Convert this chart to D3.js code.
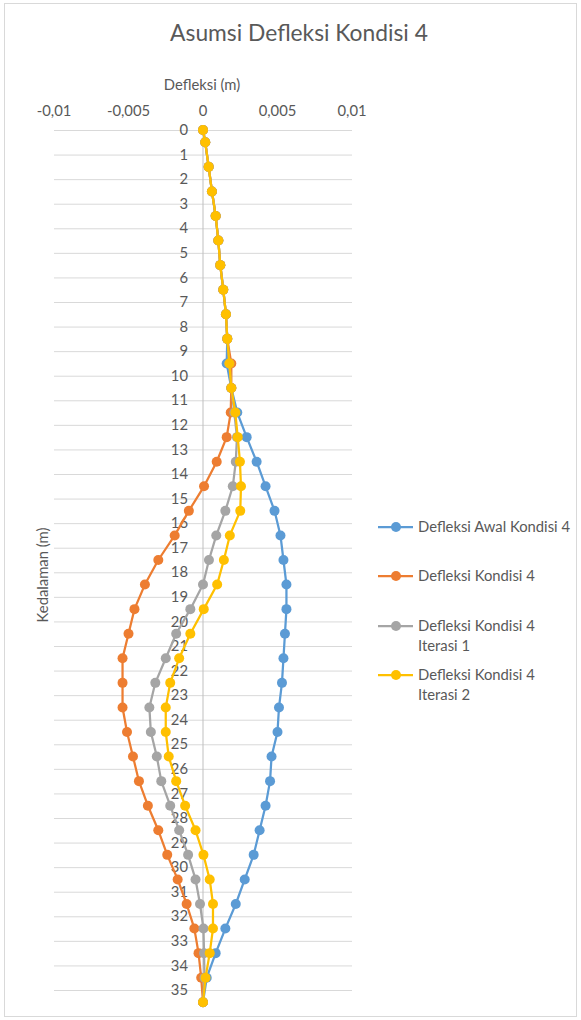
<!DOCTYPE html>
<html>
<head>
<meta charset="utf-8">
<script src="https://cdn.jsdelivr.net/npm/d3@7"></script>
<style>
  body { margin: 0; background: #fff; }
  text { font-family: Lato, "Noto Sans", sans-serif; fill: #595959; }
</style>
</head>
<body>
<div id="chart"></div>
<script>
// kedalaman (m)
const depths = [0, 0.5, 1.5, 2.5, 3.5, 4.5, 5.5, 6.5, 7.5, 8.5, 9.5, 10.5, 11.5, 12.5, 13.5, 14.5,
  15.5, 16.5, 17.5, 18.5, 19.5, 20.5, 21.5, 22.5, 23.5, 24.5, 25.5, 26.5, 27.5, 28.5, 29.5,
  30.5, 31.5, 32.5, 33.5, 34.5, 35.5];

const awal = [0, 0.00015, 0.00038, 0.0006, 0.00085, 0.00103, 0.00116, 0.00136, 0.00154, 0.00163,
  0.00159, 0.0019, 0.0023, 0.00293, 0.0036, 0.0042, 0.0048, 0.0052, 0.0054, 0.0056, 0.0056,
  0.0055, 0.0054, 0.0053, 0.0051, 0.005, 0.0046, 0.0045, 0.0042, 0.0038, 0.0034, 0.0028,
  0.0022, 0.0015, 0.00085, 0.00025, 0];

const kondisi = [0, 0.00015, 0.00038, 0.0006, 0.00085, 0.00103, 0.00116, 0.00136, 0.00154, 0.00163,
  0.0019, 0.0019, 0.00186, 0.00159, 0.00092, 0.00007, -0.00095, -0.0019, -0.003, -0.0039, -0.0046,
  -0.005, -0.0054, -0.0054, -0.0054, -0.0051, -0.0047, -0.0043, -0.0037, -0.003, -0.0024, -0.0017,
  -0.0011, -0.00058, -0.0003, -0.00012, 0];

const iterasi1 = [0, 0.00015, 0.00038, 0.0006, 0.00085, 0.00103, 0.00116, 0.00136, 0.00154, 0.00163,
  0.00177, 0.0019, 0.0021, 0.00228, 0.0022, 0.002, 0.0015, 0.00089, 0.0004, 0, -0.00085,
  -0.0018, -0.0025, -0.0032, -0.0036, -0.0035, -0.0031, -0.0028, -0.0022, -0.0016, -0.001, -0.0005,
  -0.0002, 0.00003, 0.00007, 0.0001, 0];

const iterasi2 = [0, 0.00015, 0.00038, 0.0006, 0.00085, 0.00103, 0.00116, 0.00136, 0.00154, 0.00163,
  0.00177, 0.0019, 0.00217, 0.00233, 0.00248, 0.00255, 0.0025, 0.0018, 0.0014, 0.00095, 0.00005,
  -0.00085, -0.0016, -0.0022, -0.0025, -0.0025, -0.0023, -0.0018, -0.0012, -0.0005, 0.00003, 0.00045,
  0.00067, 0.00067, 0.00045, 0.00017, 0];

const seriesNames = [["Defleksi Awal Kondisi 4"], ["Defleksi Kondisi 4"],
  ["Defleksi Kondisi 4", "Iterasi 1"], ["Defleksi Kondisi 4", "Iterasi 2"]];
const seriesColors = ["#5B9BD5", "#ED7D31", "#A5A5A5", "#FFC000"];
const xTicks = [-0.01, -0.005, 0, 0.005, 0.01];
const yTicks = d3.range(0, 36);

const W = 581, H = 1020;
const fs = '14.8px';
const svg = d3.select('#chart').append('svg').attr('width', W).attr('height', H);

svg.append('rect').attr('x', 4.5).attr('y', 3.5).attr('width', W - 9).attr('height', H - 7)
  .attr('fill', '#fff').attr('stroke', '#d9d9d9');

const x = d3.scaleLinear().domain([-0.01, 0.01]).range([54, 352]);
const y = d3.scaleLinear().domain([0, 35]).range([130, 990]);

// gridlines
svg.append('g').selectAll('line').data(yTicks).enter().append('line')
  .attr('x1', x(-0.01)).attr('x2', x(0.01))
  .attr('y1', d => y(d) + 0.5).attr('y2', d => y(d) + 0.5)
  .attr('stroke', '#d9d9d9').attr('stroke-width', 1);

// vertical axis line at x = 0
svg.append('line').attr('x1', x(0)).attr('x2', x(0))
  .attr('y1', y(0)).attr('y2', y(35.5))
  .attr('stroke', '#bfbfbf').attr('stroke-width', 1);

// y tick labels
svg.append('g').selectAll('text').data(yTicks).enter().append('text')
  .attr('x', 188).attr('y', d => y(d)).attr('dy', '0.35em')
  .attr('text-anchor', 'end').style('font-size', fs)
  .text(d => d);

// x tick labels (top)
const fmt = d => String(d).replace('.', ',');
svg.append('g').selectAll('text').data(xTicks).enter().append('text')
  .attr('x', d => x(d)).attr('y', 111).attr('dy', '0.35em')
  .attr('text-anchor', 'middle').style('font-size', fs)
  .text(fmt);

// titles
svg.append('text').attr('x', 299).attr('y', 33).attr('dy', '0.35em')
  .attr('text-anchor', 'middle').style('font-size', '22.8px')
  .text('Asumsi Defleksi Kondisi 4');
svg.append('text').attr('x', 202).attr('y', 85).attr('dy', '0.35em')
  .attr('text-anchor', 'middle').style('font-size', fs)
  .text('Defleksi (m)');
svg.append('text').attr('transform', 'translate(43,575) rotate(-90)').attr('dy', '0.35em')
  .attr('text-anchor', 'middle').style('font-size', fs)
  .text('Kedalaman (m)');

// series
const allSeries = [awal, kondisi, iterasi1, iterasi2];
const line = d3.line().x(d => x(d[0])).y(d => y(d[1]));

allSeries.forEach((vals, i) => {
  const pts = vals.map((v, j) => [v, depths[j]]);
  const g = svg.append('g');
  g.append('path').datum(pts).attr('d', line)
    .attr('fill', 'none').attr('stroke', seriesColors[i]).attr('stroke-width', 2.25)
    .attr('stroke-linejoin', 'round');
  g.selectAll('circle').data(pts).enter().append('circle')
    .attr('cx', d => x(d[0])).attr('cy', d => y(d[1])).attr('r', 5)
    .attr('fill', seriesColors[i]);
});

// legend
const legendY = [527, 576, 626, 675];
const legend = svg.append('g');
seriesNames.forEach((lines, i) => {
  const g = legend.append('g').attr('transform', `translate(0,${legendY[i]})`);
  g.append('line').attr('x1', 378).attr('x2', 413).attr('y1', 0).attr('y2', 0)
    .attr('stroke', seriesColors[i]).attr('stroke-width', 2.25);
  g.append('circle').attr('cx', 396).attr('cy', 0).attr('r', 5).attr('fill', seriesColors[i]);
  lines.forEach((t, k) => {
    g.append('text').attr('x', 418).attr('y', k * 20).attr('dy', '0.35em')
      .style('font-size', fs).text(t);
  });
});
</script>
</body>
</html>
